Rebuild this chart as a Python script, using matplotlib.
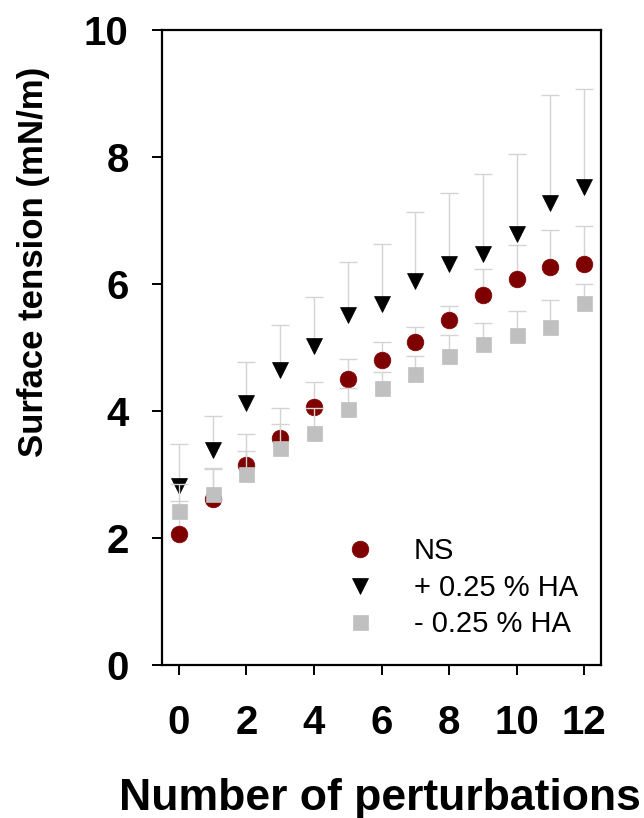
import matplotlib
matplotlib.use("Agg")
import matplotlib.pyplot as plt
import numpy as np

plt.rcParams['font.family'] = ['Liberation Sans', 'DejaVu Sans']

# ---- data ----
perturbations = [0, 1, 2, 3, 4, 5, 6, 7, 8, 9, 10, 11, 12]

ns_mean = [2.07, 2.62, 3.15, 3.57, 4.07, 4.50, 4.80, 5.08, 5.43, 5.83, 6.08, 6.26, 6.32]
ns_sd = [0.78, 0.49, 0.49, 0.47, 0.39, 0.32, 0.28, 0.25, 0.22, 0.41, 0.53, 0.59, 0.60]

plus_mean = [2.82, 3.39, 4.12, 4.65, 5.02, 5.51, 5.69, 6.04, 6.31, 6.47, 6.79, 7.28, 7.53]
plus_sd = [0.66, 0.53, 0.65, 0.70, 0.78, 0.84, 0.94, 1.09, 1.12, 1.27, 1.25, 1.70, 1.54]

minus_mean = [2.43, 2.70, 3.01, 3.42, 3.66, 4.03, 4.36, 4.58, 4.87, 5.05, 5.20, 5.32, 5.70]
minus_sd = [0.15, 0.39, 0.36, 0.38, 0.39, 0.33, 0.25, 0.29, 0.33, 0.34, 0.37, 0.43, 0.30]

labels = ["NS", "+ 0.25 % HA", "- 0.25 % HA"]
xticks = [0, 2, 4, 6, 8, 10, 12]
yticks = [0, 2, 4, 6, 8, 10]

# ---- figure ----
W, H = 644, 818
fig = plt.figure(figsize=(W / 100, H / 100), dpi=100)
ax = fig.add_axes([162 / W, 1 - 665 / H, (601 - 162) / W, (665 - 30) / H])

err_color = '#d4d4d4'

series = [
    (plus_mean, plus_sd, 'v', 'black', 12, labels[1], 2),
    (ns_mean, ns_sd, 'o', '#7f0000', 12, labels[0], 3),
    (minus_mean, minus_sd, 's', '#c0c0c0', 10.8, labels[2], 4),
]

handles = {}
x = np.array(perturbations)
for mean, sd, mk, col, ms, lab, z in series:
    mean = np.array(mean)
    sd = np.array(sd)
    cont = ax.errorbar(x, mean, yerr=[np.zeros_like(sd), sd], fmt=mk, color=col,
                       ms=ms, mec=col, mew=0.5, ecolor=err_color, elinewidth=1.0,
                       capsize=0, zorder=z, label=lab)
    ax.plot(x, mean + sd, linestyle='none', marker='_', ms=13, mew=1.0,
            color=err_color, zorder=z)
    handles[lab] = cont.lines[0]

ax.set_xlim(-0.5, 12.5)
ax.set_ylim(0, 10)
ax.set_xticks(xticks)
ax.set_yticks(yticks)
for s in ax.spines.values():
    s.set_linewidth(1.6)
ax.tick_params(direction='out', length=7, width=1.4, labelsize=29)
ax.tick_params(axis='x', pad=21)
ax.tick_params(axis='y', pad=17)
for t in ax.get_xticklabels() + ax.get_yticklabels():
    t.set_fontweight('bold')

fig.text(34 / W, 1 - 262 / H, "Surface tension (mN/m)", rotation=90,
         ha='center', va='center', fontsize=25, fontweight='bold')
fig.text(380 / W, 1 - 810 / H, "Number of perturbations", ha='center',
         va='baseline', fontsize=32, fontweight='bold')

leg = ax.legend([handles[l] for l in labels], labels, loc='upper left',
                bbox_to_anchor=(338 / W, 1 - 537 / H),
                bbox_transform=fig.transFigure, frameon=False,
                fontsize=21, handlelength=1.5, handletextpad=1.1,
                labelspacing=0.3, borderpad=0, borderaxespad=0)

fig.savefig("out.png", dpi=100)
